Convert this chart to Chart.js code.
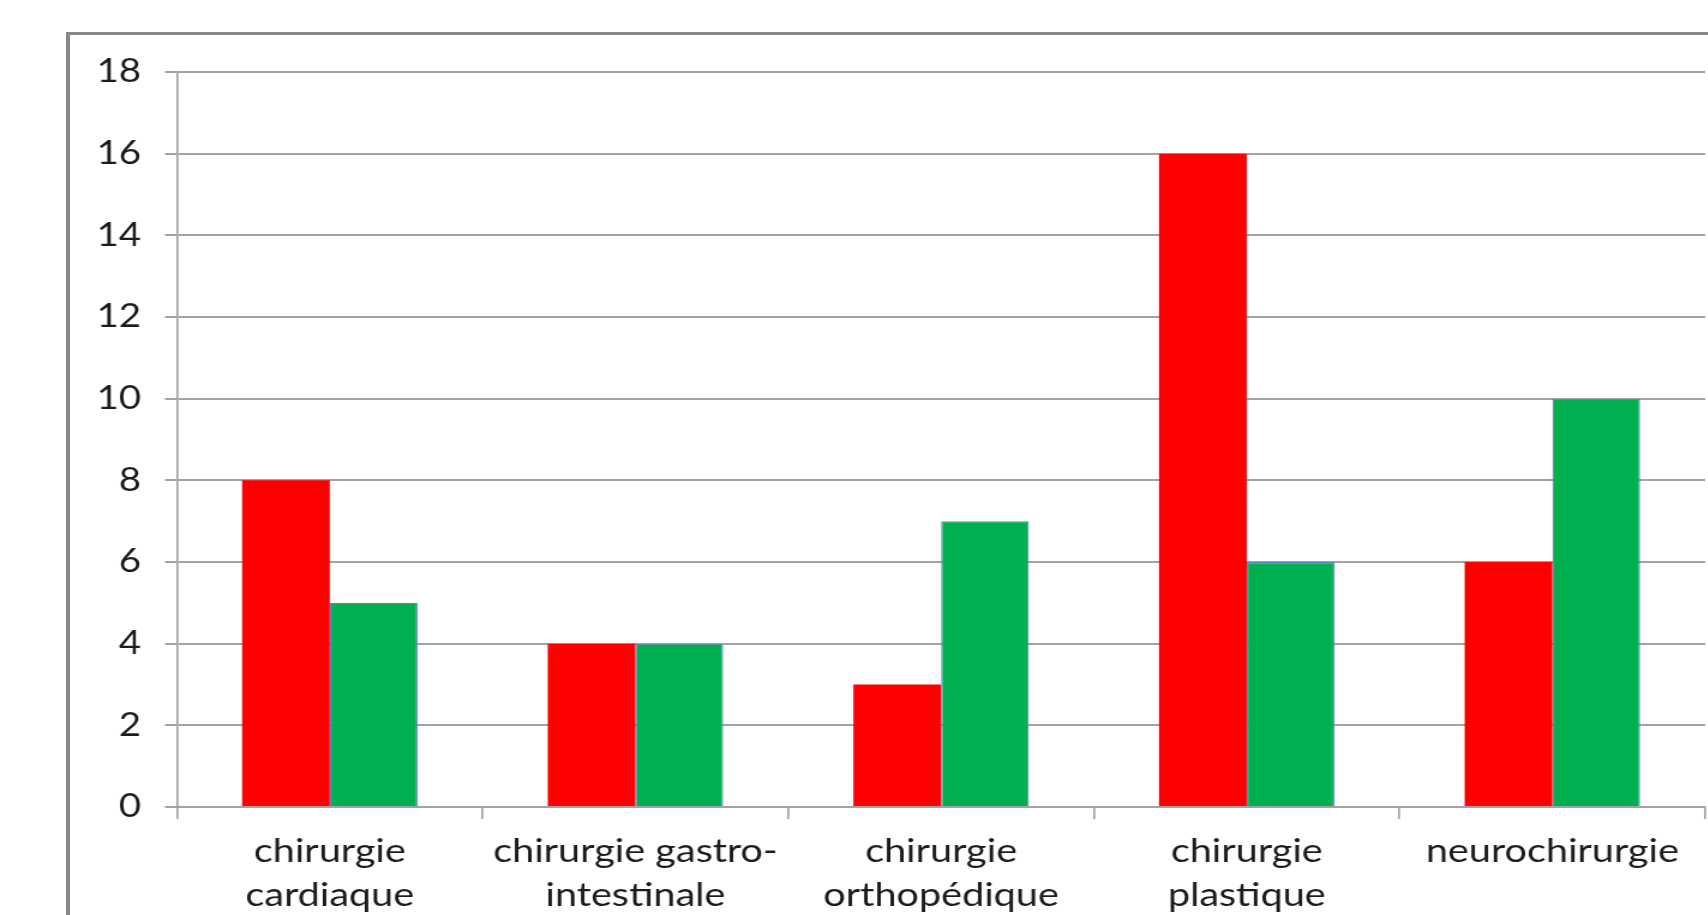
<!DOCTYPE html>
<html>
<head>
<meta charset="utf-8">
<script src="https://cdn.jsdelivr.net/npm/chart.js@4"></script>
<style>
  html, body { margin: 0; padding: 0; background: #fff; overflow: hidden; }
  #frame {
    position: absolute; left: 66px; top: 32px; width: 2000px; height: 2000px;
    border-left: 4px solid #878787; border-top: 3px solid #878787;
  }
  #wrap {
    position: absolute; left: 0; top: 0; width: 1424px; height: 915px;
    transform: scaleX(1.2); transform-origin: 0 0;
  }
</style>
</head>
<body>
<div id="frame"></div>
<div id="wrap"><canvas id="c" width="1424" height="915"></canvas></div>
<script>
// Specialities on the category axis (multi-line where the label wraps);
// a zero-width non-joiner keeps "ti" from turning into a ligature
const categories = [
  ['chirurgie', 'cardiaque'],
  ['chirurgie gastro-', 'intes\u200Ctinale'],
  ['chirurgie', 'orthopédique'],
  ['chirurgie', 'plas\u200Ctique'],
  'neurochirurgie'
];
// Two series per speciality
const redValues   = [8, 4, 3, 16, 6];
const greenValues = [5, 4, 7, 6, 10];
// Value axis
const yMin = 0, yMax = 18, yStep = 2;

const GRID = '#a3a3a3';
const TEXT = '#1c1c1c';

function draw() {
  new Chart(document.getElementById('c'), {
    type: 'bar',
    data: {
      labels: categories,
      datasets: [
        { data: redValues, backgroundColor: '#ff0000', borderWidth: 0,
          categoryPercentage: 0.574, barPercentage: 1 },
        { data: greenValues, backgroundColor: '#00b050', borderColor: '#5b86c4', borderWidth: 1.2,
          categoryPercentage: 0.574, barPercentage: 1 }
      ]
    },
    options: {
      responsive: false,
      animation: false,
      devicePixelRatio: 1,
      layout: { padding: { top: 72, right: 3, bottom: 0, left: 0 } },
      plugins: { legend: { display: false }, tooltip: { enabled: false } },
      scales: {
        x: {
          grid: { drawOnChartArea: false, drawTicks: true, tickLength: 12, color: GRID, lineWidth: 1.7, offset: true },
          border: { color: GRID, width: 2 },
          ticks: { color: TEXT, font: { family: 'Lato', size: 33, lineHeight: 1.32 }, padding: 11, maxRotation: 0, autoSkip: false },
          afterFit: s => { s.height = 108; }
        },
        y: {
          min: yMin, max: yMax,
          grid: { color: GRID, lineWidth: 2, tickLength: 10 },
          border: { color: GRID, width: 1.7 },
          ticks: { stepSize: yStep, color: TEXT, font: { family: 'Lato', size: 32 }, padding: 20 },
          afterFit: s => { s.width = 147.5; }
        }
      }
    }
  });
}
document.fonts.load('33px Lato').then(draw, draw);
</script>
</body>
</html>
